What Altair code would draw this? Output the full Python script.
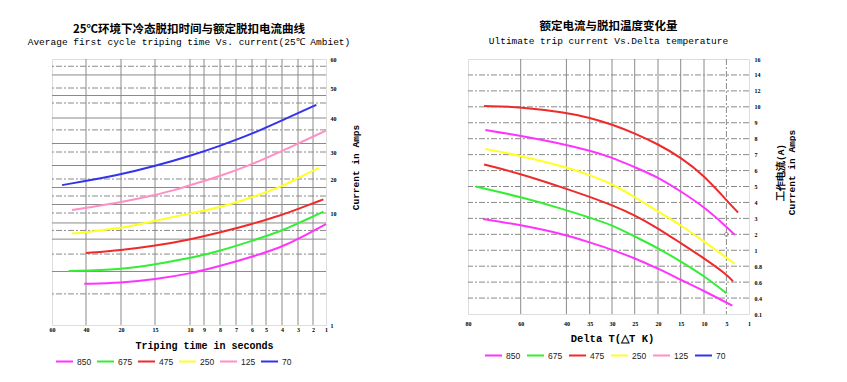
import altair as alt
import pandas as pd

# ---------------- data: left panel (tripping time s, current A) ----------------
series_order = ["850", "675", "475", "250", "125", "70"]
series_colors = ["#ff33ff", "#33ee33", "#ee2a2a", "#ffff22", "#ff8fc4", "#3333ee"]

l_ticks_t = [1, 2, 3, 4, 5, 6, 7, 8, 9, 10, 15, 20, 40, 60]
l_ticks_a = [1, 10, 20, 30, 40, 50, 60]
l_hgrid = [57.5, 54.5, 50, 47.5, 45, 40, 36.5, 32.5, 30, 25, 20, 17.5, 15, 12.5, 10, 9.2, 8.6, 7.9, 6.7, 5.3, 3.5]

l850_t = [41, 20, 15, 10, 8, 6, 4, 3, 1]
l850_a = [4.31, 4.39, 4.67, 5.12, 5.74, 6.47, 7.28, 7.90, 9.11]
l675_t = [50.2, 20, 15, 10, 8, 6, 4, 3, 1.2]
l675_a = [5.34, 5.44, 5.88, 6.36, 6.95, 7.76, 8.57, 9.16, 10.4]
l475_t = [40, 20, 15, 10, 8, 6, 4, 3, 1.2]
l475_a = [6.79, 7.01, 7.36, 7.87, 8.43, 9.11, 9.84, 11.2, 14.0]
l250_t = [48.2, 20, 15, 10, 8, 6, 4, 3, 1.56]
l250_a = [8.35, 8.76, 9.38, 9.97, 11.6, 14.6, 17.8, 20.4, 24.1]
l125_t = [48.2, 20, 15, 12.4, 10, 8, 6, 4, 1]
l125_a = [10.9, 13.1, 15.3, 16.6, 18.2, 21.0, 25.4, 30.3, 36.3]
l70_t = [54.1, 20, 15, 10, 8, 6, 4, 1.74]
l70_a = [18.2, 21.6, 24.8, 28.5, 31.8, 35.3, 39.3, 44.4]

# ---------------- data: right panel (delta T K, current A) ----------------
r_ticks_t = [1, 5, 10, 15, 20, 25, 30, 35, 40, 60, 80]
r_ticks_a = [0.1, 0.4, 0.6, 0.8, 1, 2, 3, 4, 5, 6, 7, 8, 9, 10, 12, 14, 16]

r475a_t = [73.9, 60, 40, 35, 30, 25, 20, 15, 10, 5, 2.95]
r475a_a = [10.1, 10.0, 9.63, 9.32, 8.9, 8.34, 7.66, 6.83, 5.7, 4.14, 3.37]
r850a_t = [73.4, 60, 40, 35, 30, 25, 20, 15, 10, 5, 3.53]
r850a_a = [8.55, 8.18, 7.62, 7.25, 6.83, 6.21, 5.59, 4.7, 3.73, 2.48, 1.97]
r250_t = [73.4, 60, 40, 35, 30, 25, 20, 15, 10, 5, 3.53]
r250_a = [7.35, 6.94, 6.21, 5.73, 5.17, 4.35, 3.42, 2.59, 1.55, 0.91, 0.83]
r475b_t = [73.9, 60, 40, 35, 30, 25, 20, 15, 10, 5, 3.83]
r475b_a = [6.38, 5.8, 4.86, 4.35, 3.83, 3.21, 2.38, 1.45, 0.9, 0.70, 0.61]
r675_t = [77.1, 60, 40, 35, 30, 25, 20, 15, 10, 5]
r675_a = [5.0, 4.35, 3.52, 3.04, 2.59, 1.86, 1.14, 0.86, 0.68, 0.46]
r850b_t = [74.3, 60, 40, 35, 30, 25, 20, 15, 10, 3.94]
r850b_a = [2.96, 2.59, 1.97, 1.49, 1.04, 0.9, 0.77, 0.63, 0.49, 0.256]
r_marker_t = [5]
r_marker_a = [2]


def curves(items):
    rows = []
    for name, ser, ts, amps in items:
        for t, a in zip(ts, amps):
            rows.append({"t": t, "a": a, "series": ser, "curve": name})
    return pd.DataFrame(rows)


left_df = curves([
    ("c850", "850", l850_t, l850_a), ("c675", "675", l675_t, l675_a),
    ("c475", "475", l475_t, l475_a), ("c250", "250", l250_t, l250_a),
    ("c125", "125", l125_t, l125_a), ("c70", "70", l70_t, l70_a)])
right_df = curves([
    ("r475a", "475", r475a_t, r475a_a), ("r850a", "850", r850a_t, r850a_a),
    ("r250", "250", r250_t, r250_a), ("r475b", "475", r475b_t, r475b_a),
    ("r675", "675", r675_t, r675_a), ("r850b", "850", r850b_t, r850b_a)])

# ---------------- layout / scales ----------------
LW, LH = 274, 266
RW, RH = 281, 255
# pixel positions of the (irregular) printed tick marks
l_xrange = [274, 261, 246, 230, 214, 200, 184, 168, 152, 138, 103, 69, 34, 0]
l_yrange = [266, 154, 120, 93, 59, 29, 0]
r_xrange = [281, 258.4, 236, 212.7, 190, 166.7, 144, 121.7, 98.4, 52.7, 0]
r_yrange = [RH - i * RH / 16 for i in range(17)]

lx = alt.Scale(domain=l_ticks_t, range=l_xrange, nice=False, zero=False)
ly = alt.Scale(domain=l_ticks_a, range=l_yrange, nice=False, zero=False)
rx = alt.Scale(domain=r_ticks_t, range=r_xrange, nice=False, zero=False)
ry = alt.Scale(domain=r_ticks_a, range=r_yrange, nice=False, zero=False)

color_scale = alt.Scale(domain=series_order, range=series_colors)
dash_scale = alt.Scale(domain=["solid", "dashdot"], range=[[1, 0], [6, 2, 2, 2]])
GRID = "#8a8a8a"
LABEL_FONT = "Liberation Serif"
MONO = "Liberation Mono"
CJK = "Noto Sans CJK SC"

common_axis = dict(labelExpr="datum.value + ''", ticks=False, domain=False, grid=False,
                   labelFont=LABEL_FONT, labelFontSize=6, labelFontWeight="bold",
                   labelColor="#000", labelFlush=False, labelOverlap=False,
                   titleFontWeight="bold", titleColor="#000",
                   titleAlign="center", titleBaseline="middle")

lx_axis = alt.Axis(values=l_ticks_t, labelPadding=1,
                   title="Triping time in seconds", titleFont=MONO, titleFontSize=10,
                   titleX=152, titleY=20, **common_axis)
ly_axis = alt.Axis(orient="right", values=l_ticks_a, labelPadding=4,
                   title="Current in Amps", titleFont=MONO, titleFontSize=9.5,
                   titleAngle=270, titleX=29, titleY=108, **common_axis)
rx_axis = alt.Axis(values=r_ticks_t, labelPadding=6,
                   title="Delta T(△T K)", titleFont=MONO, titleFontSize=10.5,
                   titleX=144, titleY=24, **common_axis)
ry_axis = alt.Axis(orient="right", values=r_ticks_a, labelPadding=5,
                   title=["工作电流(A)", "Current in Amps"], titleFont=MONO, titleFontSize=9.5,
                   titleAngle=270, titleX=31, titleY=113, titleLineHeight=11, **common_axis)


def legend(x, y, pad):
    return alt.Legend(orient="none", legendX=x, legendY=y, direction="horizontal",
                      title=None, symbolType="stroke", symbolSize=289,
                      symbolStrokeWidth=2, labelFont="Liberation Sans",
                      labelFontSize=8.5, labelColor="#222", labelOffset=3,
                      columnPadding=pad, padding=0)


# ---------- left panel ----------
l_vgrid = pd.DataFrame({"t": l_ticks_t[1:-1]})
l_hg = pd.DataFrame({"a": l_hgrid,
                     "dash": ["dashdot" if i % 2 == 0 else "solid" for i in range(len(l_hgrid))]})

left_v = alt.Chart(l_vgrid).mark_rule(color=GRID, strokeWidth=1).encode(
    x=alt.X("t:Q", scale=lx, axis=lx_axis))
left_h = alt.Chart(l_hg).mark_rule(color=GRID, strokeWidth=1).encode(
    y=alt.Y("a:Q", scale=ly, axis=ly_axis),
    strokeDash=alt.StrokeDash("dash:N", scale=dash_scale, legend=None))
left_lines = alt.Chart(left_df).mark_line(strokeWidth=2, interpolate="basis").encode(
    x=alt.X("t:Q", scale=lx, axis=lx_axis),
    y=alt.Y("a:Q", scale=ly, axis=ly_axis),
    color=alt.Color("series:N", scale=color_scale, legend=legend(3, 293, 1)),
    detail="curve:N",
    order=alt.Order("t:Q", sort="descending"))

left = alt.layer(left_v, left_h, left_lines).properties(
    width=LW, height=LH,
    title=alt.TitleParams(
        text="25℃环境下冷态脱扣时间与额定脱扣电流曲线",
        subtitle="Average first cycle triping time Vs. current(25℃ Ambiet)",
        font=CJK, fontSize=11.5, fontWeight="bold", color="#000",
        subtitleFont=MONO, subtitleFontSize=9.5, subtitleColor="#000",
        subtitlePadding=1, anchor="middle", frame="group", offset=10))

# ---------- right panel ----------
r_vg = pd.DataFrame({"t": r_ticks_t[1:-1],
                     "dash": ["dashdot" if v == 5 else "solid" for v in r_ticks_t[1:-1]]})
r_hg = pd.DataFrame({"a": r_ticks_a[1:-1]})
marker_df = pd.DataFrame({"t": r_marker_t, "a": r_marker_a})

right_v = alt.Chart(r_vg).mark_rule(color=GRID, strokeWidth=1).encode(
    x=alt.X("t:Q", scale=rx, axis=rx_axis),
    strokeDash=alt.StrokeDash("dash:N", scale=dash_scale, legend=None))
right_h = alt.Chart(r_hg).mark_rule(color=GRID, strokeWidth=1, strokeDash=[6, 2, 2, 2]).encode(
    y=alt.Y("a:Q", scale=ry, axis=ry_axis))
right_lines = alt.Chart(right_df).mark_line(strokeWidth=2, interpolate="basis").encode(
    x=alt.X("t:Q", scale=rx, axis=rx_axis),
    y=alt.Y("a:Q", scale=ry, axis=ry_axis),
    color=alt.Color("series:N", scale=color_scale, legend=legend(16, 287, 2)),
    detail="curve:N",
    order=alt.Order("t:Q", sort="descending"))
marker = alt.Chart(marker_df).mark_point(shape="circle", size=14, color="#777",
                                         strokeWidth=1).encode(
    x=alt.X("t:Q", scale=rx, axis=rx_axis), y=alt.Y("a:Q", scale=ry, axis=ry_axis))

right = alt.layer(right_v, right_h, right_lines, marker).properties(
    width=RW, height=RH,
    title=alt.TitleParams(
        text="额定电流与脱扣温度变化量",
        subtitle="Ultimate trip current Vs.Delta temperature",
        font=CJK, fontSize=11.5, fontWeight="bold", color="#000",
        subtitleFont=MONO, subtitleFontSize=9.5, subtitleColor="#000",
        subtitlePadding=3, anchor="middle", frame="group", offset=11))

chart = alt.hconcat(left, right, spacing=142, bounds="flush").resolve_scale(
    color="independent", x="independent", y="independent", strokeDash="independent"
).properties(
    padding={"left": 19, "top": 12, "right": 0, "bottom": 0}
).configure_view(stroke="#8a8a8a", strokeWidth=1.5).configure(background="white")

chart.save("out.html", embed_options={"renderer": "svg", "actions": False})
